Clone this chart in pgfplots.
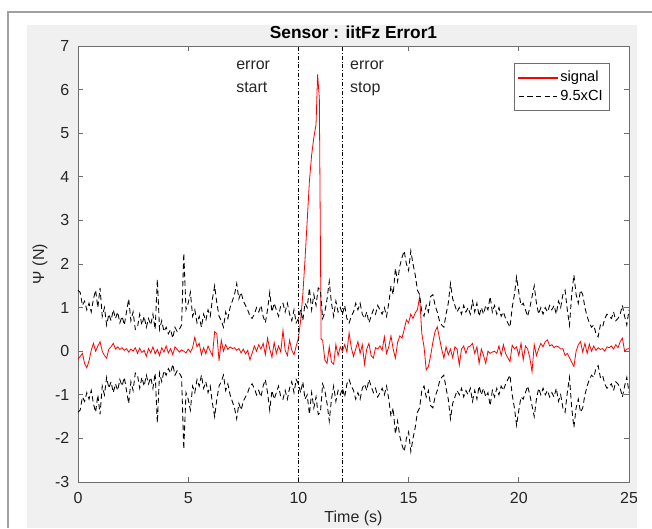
\documentclass[border=0pt]{standalone}
\usepackage{fontspec}
\setmainfont{Liberation Sans}
\usepackage{pgfplots}
\usepackage{pgfplotstable}
\pgfplotsset{compat=1.18}

\definecolor{figbg}{RGB}{240,240,240}
\definecolor{frameln}{RGB}{160,160,160}
\definecolor{axln}{RGB}{110,110,110}
\definecolor{txt}{RGB}{38,38,38}
\definecolor{sigred}{RGB}{255,0,0}

% measured signal
\pgfplotstableread{
t v
0.0 -0.18
0.1 -0.12
0.2 -0.05
0.3 -0.28
0.4 -0.38
0.5 -0.22
0.6 0.02
0.7 0.18
0.8 0.00
0.9 0.12
1.0 0.22
1.1 0.00
1.2 -0.10
1.3 -0.16
1.4 0.05
1.5 0.10
1.6 0.18
1.7 0.05
1.8 0.10
1.9 0.04
2.0 0.08
2.1 0.02
2.2 0.06
2.3 -0.02
2.4 0.05
2.5 0.00
2.6 0.08
2.7 -0.05
2.8 0.07
2.9 -0.03
3.0 0.02
3.1 -0.12
3.2 0.06
3.3 -0.04
3.4 0.10
3.5 -0.06
3.6 0.04
3.7 -0.10
3.8 0.08
3.9 -0.02
4.0 0.12
4.1 -0.04
4.2 0.06
4.3 -0.08
4.4 0.10
4.5 0.04
4.6 -0.02
4.7 0.03
4.8 0.00
4.9 -0.04
5.0 0.05
5.1 -0.02
5.2 0.08
5.3 0.32
5.4 0.10
5.5 0.18
5.6 -0.08
5.7 0.08
5.8 -0.06
5.9 0.12
6.0 0.00
6.1 -0.10
6.2 0.45
6.3 0.40
6.4 -0.22
6.5 0.25
6.6 0.00
6.7 0.15
6.8 0.04
6.9 0.10
7.0 0.06
7.1 0.08
7.2 0.02
7.3 0.06
7.4 -0.04
7.5 0.05
7.6 -0.06
7.7 0.02
7.8 -0.20
7.9 -0.05
8.0 0.12
8.1 0.00
8.2 0.15
8.3 0.05
8.4 0.18
8.5 -0.08
8.6 0.30
8.7 0.05
8.8 -0.14
8.9 0.20
9.0 -0.05
9.1 0.12
9.2 -0.02
9.3 0.48
9.4 0.02
9.5 -0.10
9.6 0.25
9.7 0.02
9.8 -0.08
9.9 0.12
10.0 0.30
10.1 0.70
10.2 1.30
10.3 2.10
10.4 3.00
10.5 3.90
10.6 4.50
10.7 4.90
10.8 5.20
10.87 6.35
10.95 5.80
11.03 0.28
11.1 0.25
11.2 -0.20
11.3 -0.28
11.4 0.10
11.5 -0.25
11.6 -0.30
11.7 0.15
11.8 -0.10
11.9 0.10
12.0 0.00
12.1 0.15
12.2 -0.02
12.3 0.42
12.4 0.08
12.5 -0.12
12.6 0.05
12.7 0.22
12.8 -0.05
12.9 0.15
13.0 -0.30
13.1 0.05
13.2 0.18
13.3 -0.10
13.4 -0.16
13.5 0.08
13.6 0.05
13.7 0.12
13.8 0.02
13.9 0.33
14.0 -0.05
14.1 0.10
14.2 0.35
14.3 0.05
14.4 -0.16
14.5 0.20
14.6 0.35
14.7 0.30
14.8 0.50
14.9 0.72
15.0 0.65
15.1 0.85
15.2 0.75
15.3 0.88
15.4 0.95
15.5 1.25
15.6 0.40
15.7 0.10
15.8 -0.43
15.9 -0.35
16.0 -0.10
16.1 0.20
16.2 0.45
16.3 0.56
16.4 0.30
16.5 0.05
16.6 -0.16
16.7 0.10
16.8 -0.08
16.9 0.05
17.0 -0.15
17.1 0.10
17.2 0.05
17.3 -0.32
17.4 0.05
17.5 0.12
17.6 -0.05
17.7 0.10
17.8 0.12
17.9 0.18
18.0 -0.05
18.1 0.10
18.2 -0.28
18.3 0.05
18.4 -0.10
18.5 -0.28
18.6 0.00
18.7 -0.05
18.8 -0.02
18.9 0.00
19.0 -0.05
19.1 0.12
19.2 -0.10
19.3 0.15
19.4 -0.05
19.5 -0.15
19.6 -0.24
19.7 0.14
19.8 0.05
19.9 0.10
20.0 -0.10
20.1 0.18
20.2 -0.20
20.3 0.12
20.4 0.05
20.5 -0.15
20.6 -0.47
20.7 0.15
20.8 -0.10
20.9 0.05
21.0 0.18
21.1 0.10
21.2 0.22
21.3 0.26
21.4 0.12
21.5 0.15
21.6 0.08
21.7 0.12
21.8 0.10
21.9 0.05
22.0 0.06
22.1 -0.10
22.2 -0.05
22.3 -0.15
22.4 -0.25
22.5 -0.35
22.6 0.00
22.7 0.15
22.8 0.22
22.9 -0.02
23.0 0.18
23.1 -0.05
23.2 0.16
23.3 0.00
23.4 0.12
23.5 0.02
23.6 0.08
23.7 0.04
23.8 0.06
23.9 0.00
24.0 0.10
24.1 0.08
24.2 0.12
24.3 0.05
24.4 0.15
24.5 0.08
24.6 0.22
24.7 0.30
24.8 0.00
24.9 0.05
25.0 0.06
}\sig

% 9.5 x confidence interval, upper and lower
\pgfplotstableread{
t up lo
0.0 1.40 -1.40
0.1 1.35 -1.35
0.2 1.05 -1.05
0.3 1.15 -1.15
0.4 0.95 -0.95
0.5 1.10 -1.10
0.6 0.90 -0.90
0.7 1.20 -1.20
0.8 1.40 -1.40
0.9 1.00 -1.00
1.0 1.45 -1.45
1.1 0.80 -0.80
1.2 1.00 -1.00
1.3 0.60 -0.60
1.4 0.85 -0.85
1.5 0.70 -0.70
1.6 0.95 -0.95
1.7 0.75 -0.75
1.8 0.90 -0.90
1.9 0.65 -0.65
2.0 0.80 -0.80
2.1 0.60 -0.60
2.2 0.90 -0.90
2.3 1.20 -1.20
2.4 0.70 -0.70
2.5 0.90 -0.90
2.6 0.50 -0.50
2.7 0.55 -0.55
2.8 0.85 -0.85
2.9 0.60 -0.60
3.0 0.80 -0.80
3.1 0.55 -0.55
3.2 0.75 -0.75
3.3 0.60 -0.60
3.4 0.85 -0.85
3.5 0.50 -0.50
3.6 1.65 -1.65
3.7 0.50 -0.50
3.8 0.70 -0.70
3.9 0.45 -0.45
4.0 0.55 -0.55
4.1 0.40 -0.40
4.2 0.50 -0.50
4.3 0.30 -0.30
4.4 0.55 -0.55
4.5 0.45 -0.45
4.6 0.50 -0.50
4.7 0.60 -0.60
4.8 2.25 -2.25
4.9 0.95 -0.95
5.0 1.10 -1.10
5.1 1.35 -1.35
5.2 0.80 -0.80
5.3 0.95 -0.95
5.4 0.65 -0.65
5.5 0.80 -0.80
5.6 0.55 -0.55
5.7 0.85 -0.85
5.8 0.70 -0.70
5.9 0.95 -0.95
6.0 0.80 -0.80
6.1 1.20 -1.20
6.2 1.50 -1.50
6.3 1.10 -1.10
6.4 0.80 -0.80
6.5 0.70 -0.70
6.6 0.55 -0.55
6.7 0.90 -0.90
6.8 0.75 -0.75
6.9 1.00 -1.00
7.0 1.15 -1.15
7.1 1.30 -1.30
7.2 1.55 -1.55
7.3 1.20 -1.20
7.4 1.35 -1.35
7.5 1.15 -1.15
7.6 1.05 -1.05
7.7 0.95 -0.95
7.8 0.80 -0.80
7.9 0.75 -0.75
8.0 0.85 -0.85
8.1 1.00 -1.00
8.2 0.90 -0.90
8.3 1.05 -1.05
8.4 0.80 -0.80
8.5 0.65 -0.65
8.6 0.95 -0.95
8.7 1.35 -1.35
8.8 0.90 -0.90
8.9 1.10 -1.10
9.0 0.95 -0.95
9.1 0.80 -0.80
9.2 1.05 -1.05
9.3 1.10 -1.10
9.4 0.90 -0.90
9.5 1.10 -1.10
9.6 0.85 -0.85
9.7 0.70 -0.70
9.8 0.95 -0.95
9.9 0.65 -0.65
10.0 0.75 -0.75
10.1 0.95 -0.95
10.2 0.70 -0.70
10.3 1.10 -1.10
10.4 1.00 -1.00
10.5 1.45 -1.45
10.6 0.95 -0.95
10.7 1.30 -1.30
10.8 1.05 -1.05
10.9 1.45 -1.45
11.0 1.40 -1.40
11.1 0.75 -0.75
11.2 0.90 -0.90
11.3 1.20 -1.20
11.4 1.60 -1.60
11.5 1.10 -1.10
11.6 0.80 -0.80
11.7 1.15 -1.15
11.8 0.90 -0.90
11.9 1.00 -1.00
12.0 0.85 -0.85
12.1 1.05 -1.05
12.2 0.75 -0.75
12.3 0.65 -0.65
12.4 0.80 -0.80
12.5 0.90 -0.90
12.6 1.10 -1.10
12.7 0.95 -0.95
12.8 1.10 -1.10
12.9 0.85 -0.85
13.0 0.75 -0.75
13.1 0.90 -0.90
13.2 0.65 -0.65
13.3 0.80 -0.80
13.4 0.95 -0.95
13.5 0.85 -0.85
13.6 1.05 -1.05
13.7 0.95 -0.95
13.8 0.85 -0.85
13.9 1.00 -1.00
14.0 0.80 -0.80
14.1 1.10 -1.10
14.2 1.50 -1.50
14.3 1.30 -1.30
14.4 1.90 -1.90
14.5 1.60 -1.60
14.6 1.95 -1.95
14.7 2.15 -2.15
14.8 2.30 -2.30
14.9 2.00 -2.00
15.0 1.85 -1.85
15.1 2.30 -2.30
15.2 2.00 -2.00
15.3 1.75 -1.75
15.4 1.40 -1.40
15.5 1.30 -1.30
15.6 0.90 -0.90
15.7 0.80 -0.80
15.8 1.05 -1.05
15.9 0.90 -0.90
16.0 1.25 -1.25
16.1 1.30 -1.30
16.2 1.05 -1.05
16.3 0.90 -0.90
16.4 0.70 -0.70
16.5 0.60 -0.60
16.6 0.55 -0.55
16.7 0.85 -0.85
16.8 1.10 -1.10
16.9 1.55 -1.55
17.0 1.20 -1.20
17.1 1.05 -1.05
17.2 0.90 -0.90
17.3 1.00 -1.00
17.4 0.85 -0.85
17.5 1.05 -1.05
17.6 0.90 -0.90
17.7 1.00 -1.00
17.8 0.85 -0.85
17.9 1.15 -1.15
18.0 0.90 -0.90
18.1 1.10 -1.10
18.2 0.80 -0.80
18.3 1.00 -1.00
18.4 0.85 -0.85
18.5 1.05 -1.05
18.6 0.95 -0.95
18.7 1.25 -1.25
18.8 0.90 -0.90
18.9 1.05 -1.05
19.0 0.85 -0.85
19.1 1.00 -1.00
19.2 0.80 -0.80
19.3 0.90 -0.90
19.4 0.75 -0.75
19.5 0.65 -0.65
19.6 0.55 -0.55
19.7 1.00 -1.00
19.8 1.30 -1.30
19.9 1.70 -1.70
20.0 1.35 -1.35
20.1 1.05 -1.05
20.2 1.10 -1.10
20.3 0.95 -0.95
20.4 0.80 -0.80
20.5 1.00 -1.00
20.6 1.25 -1.25
20.7 1.50 -1.50
20.8 1.10 -1.10
20.9 0.85 -0.85
21.0 1.00 -1.00
21.1 0.85 -0.85
21.2 1.00 -1.00
21.3 0.90 -0.90
21.4 1.05 -1.05
21.5 0.95 -0.95
21.6 1.05 -1.05
21.7 0.85 -0.85
21.8 1.15 -1.15
21.9 1.00 -1.00
22.0 1.30 -1.30
22.1 1.40 -1.40
22.2 0.95 -0.95
22.3 0.60 -0.60
22.4 1.30 -1.30
22.5 1.75 -1.75
22.6 1.30 -1.30
22.7 1.10 -1.10
22.8 1.40 -1.40
22.9 1.30 -1.30
23.0 1.00 -1.00
23.1 0.80 -0.80
23.2 0.65 -0.65
23.3 0.55 -0.55
23.4 0.60 -0.60
23.5 0.40 -0.40
23.6 0.33 -0.33
23.7 0.60 -0.60
23.8 0.55 -0.55
23.9 0.75 -0.75
24.0 0.85 -0.85
24.1 0.80 -0.80
24.2 0.75 -0.75
24.3 0.90 -0.90
24.4 0.70 -0.70
24.5 0.75 -0.75
24.6 0.85 -0.85
24.7 1.05 -1.05
24.8 0.80 -0.80
24.9 0.60 -0.60
25.0 0.95 -0.95
}\ci

\begin{document}
\begin{tikzpicture}
\useasboundingbox (-58.5pt,-34.5pt) rectangle (430.5pt,361.5pt);
\fill[white] (-58.5pt,-34.5pt) rectangle (430.5pt,361.5pt);
\fill[figbg] (-38.25pt,-34.5pt) rectangle (419.25pt,342.75pt);
\draw[frameln, line width=0.8pt] (-52.5pt,-34.5pt) -- (-52.5pt,352.5pt) -- (430.5pt,352.5pt);
\begin{axis}[
  at={(0,0)}, anchor=south west,
  scale only axis, width=413.25pt, height=327pt,
  xmin=0, xmax=25, ymin=-3, ymax=7,
  xtick={0,5,...,25}, ytick={-3,-2,...,7},
  tick align=inside, major tick length=4pt,
  axis background/.style={fill=white},
  axis line style={axln, line width=0.5pt},
  every tick/.style={axln, line width=0.5pt},
  tick label style={font=\fontsize{12}{14}\selectfont, text=txt},
  xticklabel style={yshift=-4pt},
  yticklabel style={xshift=-3pt},
  /pgf/number format/assume math mode=true,
  every axis title shift=0pt,
  title={\textbf{Sensor : iitFz Error1}},
  title style={at={(axis description cs:0.5,1.032)}, anchor=center, font=\fontsize{13}{15}\selectfont, text=black},
  xlabel={Time (s)},
  xlabel style={at={(axis description cs:0.5,-0.083)}, anchor=center, font=\fontsize{12}{14}\selectfont, text=txt},
  ylabel={Ψ (N)},
  ylabel style={at={(axis description cs:-0.069,0.5)}, anchor=center, font=\fontsize{12}{14}\selectfont, text=txt},
  legend cell align=left,
  legend style={name=legbox, at={(0.791,0.961)}, anchor=north west, draw=none, fill=white,
    font=\fontsize{11}{13}\selectfont, inner xsep=3pt, inner ysep=4pt, row sep=0.5pt},
]
\addplot[color=sigred, line width=0.6pt,
  legend image code/.code={\fill[fill=sigred] (0pt,-0.28pt) rectangle (29pt,0.28pt);}]
  table[x=t, y=v] {\sig};
\addlegendentry{signal}
\addplot[color=black, line width=0.65pt, dash pattern=on 4pt off 2.5pt,
  legend image code/.code={\draw[color=black, line width=0.65pt, dash pattern=on 4pt off 2.5pt] (0pt,0pt) -- (29pt,0pt);}]
  table[x=t, y=up] {\ci};
\addlegendentry{9.5xCI}
\addplot[color=black, line width=0.65pt, dash pattern=on 4pt off 2.5pt, forget plot] table[x=t, y=lo] {\ci};
\addplot[color=black, line width=0.4pt, dash pattern=on 3pt off 1.5pt on 0.6pt off 1.5pt, forget plot] coordinates {(10,-3) (10,7)};
\addplot[color=black, line width=0.4pt, dash pattern=on 3pt off 1.5pt on 0.6pt off 1.5pt, forget plot] coordinates {(12,-3) (12,7)};
\node[anchor=base west, font=\fontsize{12}{14}\selectfont, text=txt, inner sep=0pt] at (axis cs:7.17,6.46) {error};
\node[anchor=base west, font=\fontsize{12}{14}\selectfont, text=txt, inner sep=0pt] at (axis cs:7.17,5.93) {start};
\node[anchor=base west, font=\fontsize{12}{14}\selectfont, text=txt, inner sep=0pt] at (axis cs:12.34,6.46) {error};
\node[anchor=base west, font=\fontsize{12}{14}\selectfont, text=txt, inner sep=0pt] at (axis cs:12.34,5.93) {stop};
\end{axis}
\draw[axln, line width=0.5pt] (legbox.south west) rectangle (legbox.north east);
\fill[white] (419.25pt,-34.5pt) rectangle (430.5pt,342.75pt);
\end{tikzpicture}
\end{document}
